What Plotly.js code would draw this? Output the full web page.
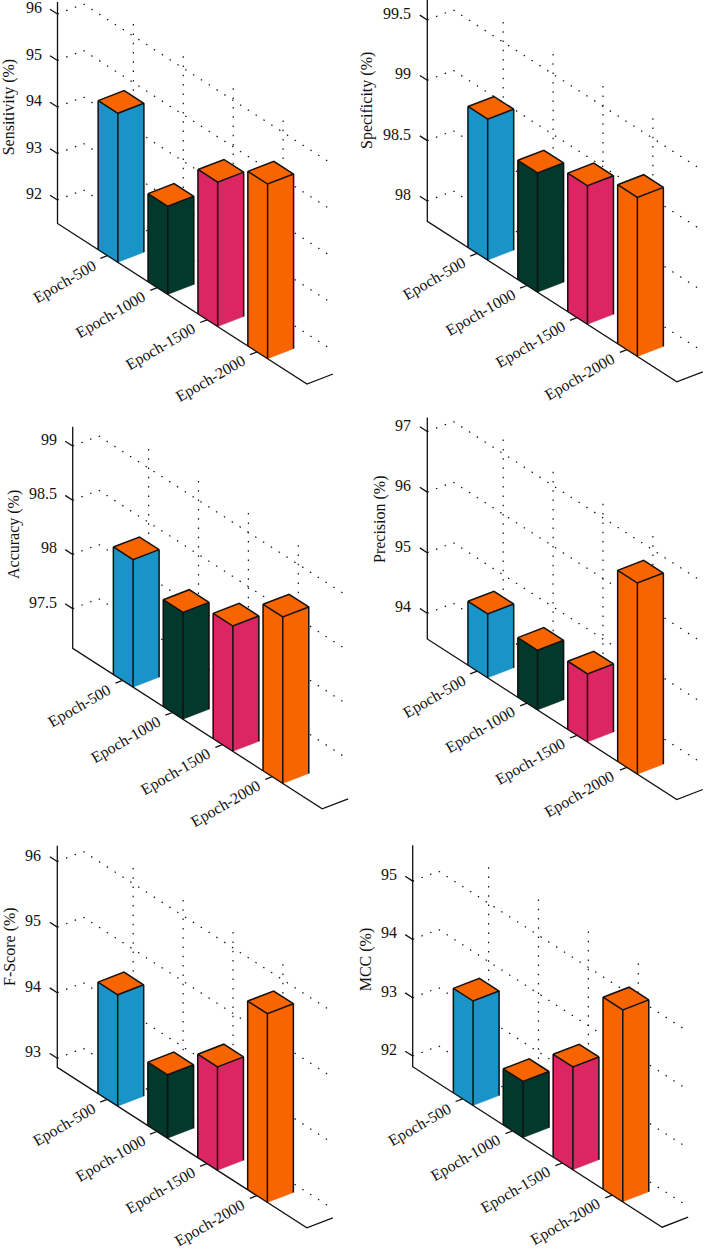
<!DOCTYPE html>
<html>
<head>
<meta charset="utf-8">
<script src="https://cdn.plot.ly/plotly-3.0.1.min.js"></script>
<style>html,body{margin:0;padding:0;background:#fff}</style>
</head>
<body>
<div id="chart" style="width:704px;height:1250px"></div>
<script>
// ---- data ----
const categories = ["Epoch-500", "Epoch-1000", "Epoch-1500", "Epoch-2000"];
const sensitivity = [94.70, 93.39, 94.60, 95.25];
const specificity = [99.00, 98.82, 98.98, 99.15];
const accuracy    = [98.31, 98.12, 98.29, 98.67];
const precision   = [94.63, 94.56, 94.70, 96.73];
const fscore      = [94.56, 93.83, 94.44, 95.74];
const mcc         = [93.61, 92.78, 93.58, 95.11];

const sensitivityTicks = [92, 93, 94, 95, 96];
const specificityTicks = [98, 98.5, 99, 99.5];
const accuracyTicks    = [97.5, 98, 98.5, 99];
const precisionTicks   = [94, 95, 96, 97];
const fscoreTicks      = [93, 94, 95, 96];
const mccTicks         = [92, 93, 94, 95];

const barColors = ["#1a94c8", "#03392c", "#dc2563", "#f76400"];
const topColor = "#f76400";

// ---- panel geometry (oblique projection of each plot box) ----
const panels = [
  {title:"Sensitivity (%)", values:sensitivity, ticks:sensitivityTicks, base:91.495, scale:46.5, ox:57.5,  oy:223.5,  tx:9.3,   ty:107,   box:[0,0,352,412]},
  {title:"Specificity (%)", values:specificity, ticks:specificityTicks, base:97.832, scale:120.7,ox:427.3, oy:221.3,  tx:367,   ty:101,   box:[352,0,704,412]},
  {title:"Accuracy (%)",    values:accuracy,    ticks:accuracyTicks,    base:97.134, scale:108.4,ox:72.7,  oy:648.3,  tx:13.3,  ty:534.7, box:[0,412,352,838]},
  {title:"Precision (%)",   values:precision,   ticks:precisionTicks,   base:93.576, scale:60.6, ox:427.3, oy:639,    tx:380.7, ty:519.3, box:[352,412,704,838]},
  {title:"F-Score (%)",     values:fscore,      ticks:fscoreTicks,      base:92.863, scale:65.6, ox:57.3,  oy:1067.3, tx:10,    ty:947,   box:[0,838,352,1250]},
  {title:"MCC (%)",         values:mcc,         ticks:mccTicks,         base:91.817, scale:58.3, ox:412.7, oy:1066.7, tx:366.3, ty:959,   box:[352,838,704,1250]}
];
const STEP = [49.9, 32.1];   // one category along the floor
const DEPTH = [26, -10];     // depth of the box
const WALL = 221.5;          // height of the z axis
const FONT = "Liberation Serif";

const traces = [], annotations = [];
const layout = {
  width:704, height:1250, autosize:false, showlegend:false,
  margin:{l:0,r:0,t:0,b:0,pad:0}, paper_bgcolor:"#fff", plot_bgcolor:"#fff",
  annotations
};

function line(xa, ya, pts, color, width, dash) {
  traces.push({type:"scatter", mode:"lines", xaxis:xa, yaxis:ya, hoverinfo:"skip", cliponaxis:false,
    x:pts.map(p => p ? p[0] : null), y:pts.map(p => p ? p[1] : null),
    line:{color, width, dash: dash || "solid"}});
}
function face(xa, ya, pts, color) {
  const c = pts.concat([pts[0]]);
  traces.push({type:"scatter", mode:"lines", fill:"toself", fillcolor:color, xaxis:xa, yaxis:ya,
    hoverinfo:"skip", cliponaxis:false, x:c.map(p => p[0]), y:c.map(p => p[1]), line:{color:color, width:0.4}});
}

panels.forEach((p, n) => {
  const k = n === 0 ? "" : String(n + 1);
  const xa = "x" + k, ya = "y" + k;
  const [bx0, by0, bx1, by1] = p.box;
  const axisBase = {visible:false, showgrid:false, zeroline:false, fixedrange:true};
  layout["xaxis" + k] = {...axisBase, domain:[bx0/704, bx1/704], range:[bx0, bx1], anchor:ya};
  layout["yaxis" + k] = {...axisBase, domain:[1-by1/1250, 1-by0/1250], range:[by1, by0], anchor:xa};

  // category position i, depth d (0..1), value z -> plot coordinates
  const P = (i, d, z) => [
    p.ox + i*STEP[0] + d*DEPTH[0],
    p.oy + i*STEP[1] + d*DEPTH[1] - (z - p.base)*p.scale
  ];
  const zTop = p.base + WALL/p.scale;
  const nCat = categories.length + 1;
  const dots = "1.5px,7.8px";

  // dotted grid on the side and back walls
  p.ticks.forEach(t => line(xa, ya, [P(0,0,t), P(0,1,t), P(nCat,1,t)], "#111", 1.2, dots));
  categories.forEach((c, i) => line(xa, ya, [P(i+1,1,zTop), P(i+1,1,p.base)], "#111", 1.2, dots));

  // bars
  p.values.forEach((v, i) => {
    const a = i + 1 - 0.185, b = i + 1 + 0.21;
    face(xa, ya, [P(a,0,p.base), P(b,0,p.base), P(b,0,v), P(a,0,v)], barColors[i]);
    face(xa, ya, [P(b,0,p.base), P(b,1,p.base), P(b,1,v), P(b,0,v)], barColors[i]);
    face(xa, ya, [P(a,0,v), P(b,0,v), P(b,1,v), P(a,1,v)], topColor);
    line(xa, ya, [
      P(a,0,p.base), P(a,0,v), P(b,0,v), P(b,1,v), P(a,1,v), P(a,0,v), null,
      P(b,0,p.base), P(b,0,v), null,
      P(b,1,p.base), P(b,1,v)
    ], "#111", 1.5);
  });

  // axes
  line(xa, ya, [P(0,0,zTop), P(0,0,p.base), P(nCat,0,p.base), P(nCat,1,p.base)], "#111", 1.3);

  // z ticks and labels
  p.ticks.forEach(t => {
    const q = P(0,0,t);
    line(xa, ya, [q, P(-0.15,0,t)], "#111", 1.3);
    annotations.push({xref:xa, yref:ya, x:q[0]-14, y:q[1]-6.5, text:String(t), showarrow:false,
      xanchor:"right", yanchor:"middle", font:{family:FONT, size:16, color:"#111"}});
  });

  // category ticks and labels
  categories.forEach((c, i) => {
    const q = P(i+1,0,p.base);
    line(xa, ya, [q, P(i+1,-0.27,p.base)], "#111", 1.3);
    const off = c.length === 9 ? [-43, 26] : [-47, 27];
    annotations.push({xref:xa, yref:ya, x:q[0]+off[0], y:q[1]+off[1], text:c, showarrow:false, textangle:-30,
      xanchor:"center", yanchor:"middle", font:{family:FONT, size:15.8, color:"#111"}});
  });

  // z title
  annotations.push({xref:xa, yref:ya, x:p.tx, y:p.ty, text:p.title, showarrow:false, textangle:-90,
    xanchor:"center", yanchor:"middle", font:{family:FONT, size:16, color:"#111"}});
});

Plotly.newPlot("chart", traces, layout, {displayModeBar:false, staticPlot:true});
</script>
</body>
</html>
